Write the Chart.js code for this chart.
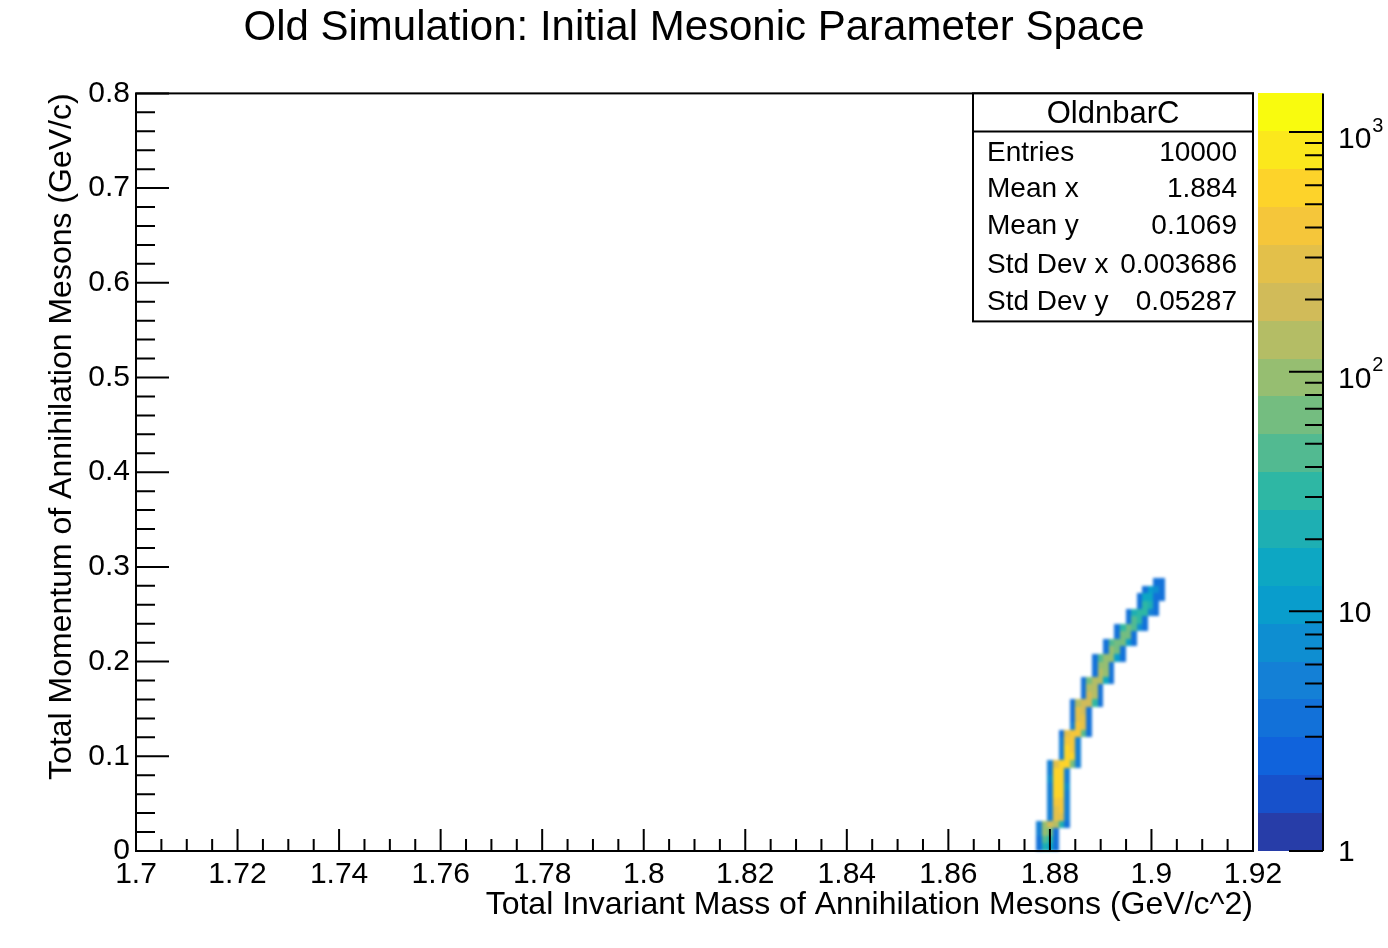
<!DOCTYPE html>
<html>
<head>
<meta charset="utf-8">
<title>Old Simulation: Initial Mesonic Parameter Space</title>
<script src="https://cdn.jsdelivr.net/npm/chart.js@4.4.0/dist/chart.umd.min.js"></script>
<style>
  html, body { margin: 0; padding: 0; background: #fff; }
  #plot { display: block; }
</style>
</head>
<body>
<canvas id="plot" width="1388" height="948"></canvas>
<script>
// ROOT TH2 "OldnbarC" drawn with COLZ and a log z axis

const xTickValues = [1.7, 1.72, 1.74, 1.76, 1.78, 1.8, 1.82, 1.84, 1.86, 1.88, 1.9, 1.92];
const xTickLabels = ['1.7', '1.72', '1.74', '1.76', '1.78', '1.8', '1.82', '1.84', '1.86', '1.88', '1.9', '1.92'];
const yTickValues = [0, 0.1, 0.2, 0.3, 0.4, 0.5, 0.6, 0.7, 0.8];
const yTickLabels = ['0', '0.1', '0.2', '0.3', '0.4', '0.5', '0.6', '0.7', '0.8'];
const zTickValues = [1, 10, 100, 1000];
const zTickBase = ['1', '10', '10', '10'];
const zTickExp = ['', '', '2', '3'];
const zMax = 1450;

// histogram bins: one entry per y row, cells run rightwards from rowLeft
const cellWidth = 0.0011;
const cellHeight = 0.008;
const rowCenters = [0.004, 0.012, 0.020, 0.028, 0.036, 0.044, 0.052, 0.060, 0.068, 0.076, 0.084, 0.092,
                    0.100, 0.108, 0.116, 0.124, 0.132, 0.140, 0.148, 0.156, 0.164, 0.172, 0.180, 0.188,
                    0.196, 0.204, 0.212, 0.220, 0.228, 0.236, 0.244, 0.252, 0.260, 0.268, 0.276, 0.284];
const rowLeft = [1.8773, 1.8773, 1.8773, 1.8773, 1.8795, 1.8795, 1.8795, 1.8795, 1.8795, 1.8795, 1.8795, 1.8795,
                 1.8817, 1.8817, 1.8817, 1.8817, 1.8839, 1.8839, 1.8839, 1.8839, 1.8861, 1.8861, 1.8861, 1.8883,
                 1.8883, 1.8883, 1.8905, 1.8905, 1.8927, 1.8927, 1.8949, 1.8949, 1.8971, 1.8971, 1.8982, 1.9004];
const rowCounts = [
    [3, 20, 14, 3], [4, 45, 35, 3], [5, 90, 70, 4], [5, 90, 170, 140, 25, 4],
    [5, 240, 280, 5], [5, 330, 380, 6], [6, 420, 470, 6], [6, 490, 540, 6],
    [6, 540, 580, 7], [7, 570, 600, 6], [6, 580, 590, 6], [5, 300, 560, 520, 60, 5],
    [5, 540, 500, 5], [5, 500, 460, 5], [5, 460, 420, 5], [4, 240, 420, 380, 50, 4],
    [5, 360, 320, 4], [4, 320, 280, 4], [4, 270, 230, 4], [4, 130, 220, 190, 30, 4],
    [4, 180, 150, 4], [4, 160, 135, 3], [3, 75, 140, 120, 18, 3], [4, 125, 105, 3],
    [3, 110, 92, 3], [3, 52, 95, 80, 12, 3], [3, 92, 78, 3], [3, 42, 78, 66, 10, 3],
    [3, 66, 55, 3], [3, 30, 55, 46, 8, 3], [3, 46, 38, 3], [3, 20, 38, 31, 6, 3],
    [3, 30, 24, 3], [3, 18, 14, 4, 3], [3, 10, 8, 3], [3, 3]
];

const statsTitle = 'OldnbarC';
const statsNames = ['Entries', 'Mean x', 'Mean y', 'Std Dev x', 'Std Dev y'];
const statsValues = ['10000', '1.884', '0.1069', '0.003686', '0.05287'];

const FONT = "'Liberation Sans', Arial, Helvetica, sans-serif";

// kBird palette, 20 contour levels
const birdStops = [0.0, 0.125, 0.25, 0.375, 0.5, 0.625, 0.75, 0.875, 1.0];
const birdR = [0.2082, 0.0592, 0.0780, 0.0232, 0.1802, 0.5301, 0.8186, 0.9956, 0.9764];
const birdG = [0.1664, 0.3599, 0.5041, 0.6419, 0.7178, 0.7492, 0.7328, 0.7862, 0.9832];
const birdB = [0.5293, 0.8684, 0.8385, 0.7914, 0.6425, 0.4662, 0.3499, 0.1968, 0.0539];
const nContours = 20;

function birdColour(f) {
    let i = 0;
    while (i < birdStops.length - 2 && f > birdStops[i + 1]) i++;
    const t = (f - birdStops[i]) / (birdStops[i + 1] - birdStops[i]);
    const c = arr => Math.round(255 * (arr[i] + (arr[i + 1] - arr[i]) * t));
    return `rgb(${c(birdR)},${c(birdG)},${c(birdB)})`;
}

function bandColour(band) {
    const idx = Math.min(254, Math.floor((band + 0.99) * 255 / nContours));
    return birdColour(idx / 254);
}

function colourFor(v) {
    const band = Math.floor(Math.log10(v) / Math.log10(zMax) * nContours);
    return bandColour(Math.max(0, Math.min(nContours - 1, band)));
}

const cells = [];
rowCenters.forEach((yc, i) => {
    rowCounts[i].forEach((count, j) => {
        cells.push({ x: rowLeft[i] + (j + 0.5) * cellWidth, y: yc, v: count });
    });
});

const rootStyle = {
    id: 'rootStyle',
    afterDraw(chart) {
        const { ctx, chartArea: a } = chart;
        const { x, y, z } = chart.scales;

        // colz cells, drawn crisp off screen then softened a touch
        const off = document.createElement('canvas');
        off.width = chart.width;
        off.height = chart.height;
        const oc = off.getContext('2d');
        chart.data.datasets[0].data.forEach(c => {
            const x0 = Math.round(x.getPixelForValue(c.x - cellWidth / 2));
            const x1 = Math.round(x.getPixelForValue(c.x + cellWidth / 2));
            const y0 = Math.round(y.getPixelForValue(c.y - cellHeight / 2));
            const y1 = Math.round(y.getPixelForValue(c.y + cellHeight / 2));
            oc.fillStyle = colourFor(c.v);
            oc.fillRect(x0, y1, x1 - x0, y0 - y1);
        });
        ctx.save();
        ctx.filter = 'blur(1.5px)';
        ctx.drawImage(off, 0, 0);
        ctx.restore();

        ctx.save();
        ctx.strokeStyle = '#000';
        ctx.lineWidth = 2;
        ctx.strokeRect(a.left, a.top, a.right - a.left, a.bottom - a.top);

        // inward ticks
        ctx.beginPath();
        xTickValues.forEach((v, i) => {
            const px = x.getPixelForValue(v);
            ctx.moveTo(px, a.bottom);
            ctx.lineTo(px, a.bottom - 22);
            if (i < xTickValues.length - 1) {
                for (let k = 1; k < 4; k++) {
                    const mx = x.getPixelForValue(v + (xTickValues[i + 1] - v) * k / 4);
                    ctx.moveTo(mx, a.bottom);
                    ctx.lineTo(mx, a.bottom - 12);
                }
            }
        });
        yTickValues.forEach((v, i) => {
            const py = y.getPixelForValue(v);
            ctx.moveTo(a.left, py);
            ctx.lineTo(a.left + 33, py);
            if (i < yTickValues.length - 1) {
                for (let k = 1; k < 5; k++) {
                    const my = y.getPixelForValue(v + (yTickValues[i + 1] - v) * k / 5);
                    ctx.moveTo(a.left, my);
                    ctx.lineTo(a.left + 19, my);
                }
            }
        });
        ctx.stroke();

        // stats box
        const bl = a.right - 280, bt = a.top, br = a.right, bb = a.top + 228;
        ctx.fillStyle = '#fff';
        ctx.fillRect(bl, bt, br - bl, bb - bt);
        ctx.strokeRect(bl, bt, br - bl, bb - bt);
        ctx.beginPath();
        ctx.moveTo(bl, bt + 38);
        ctx.lineTo(br, bt + 38);
        ctx.stroke();
        ctx.fillStyle = '#000';
        ctx.textBaseline = 'middle';
        ctx.textAlign = 'center';
        ctx.font = `31px ${FONT}`;
        ctx.fillText(statsTitle, (bl + br) / 2, bt + 21);
        ctx.font = `28px ${FONT}`;
        const rowOffsets = [60, 96, 133, 172, 209];
        statsNames.forEach((name, i) => {
            ctx.textAlign = 'left';
            ctx.fillText(name, bl + 14, bt + rowOffsets[i]);
            ctx.textAlign = 'right';
            ctx.fillText(statsValues[i], br - 16, bt + rowOffsets[i]);
        });

        // palette
        const pl = a.right + 5, pr = a.right + 70;
        const logMax = Math.log10(zMax);
        for (let b = 0; b < nContours; b++) {
            const lo = Math.round(z.getPixelForValue(Math.pow(10, b * logMax / nContours)));
            const hi = Math.round(z.getPixelForValue(Math.pow(10, (b + 1) * logMax / nContours)));
            ctx.fillStyle = bandColour(b);
            ctx.fillRect(pl, hi, pr - pl, lo - hi);
        }
        ctx.beginPath();
        ctx.moveTo(pr, z.top);
        ctx.lineTo(pr, z.bottom);
        zTickValues.forEach(v => {
            const py = z.getPixelForValue(v);
            ctx.moveTo(pr - 34, py);
            ctx.lineTo(pr, py);
            for (let m = 2; m < 10; m++) {
                if (v * m > zMax) break;
                const my = z.getPixelForValue(v * m);
                ctx.moveTo(pr - 18, my);
                ctx.lineTo(pr, my);
            }
        });
        ctx.stroke();

        ctx.fillStyle = '#000';
        ctx.textAlign = 'left';
        ctx.textBaseline = 'middle';
        zTickValues.forEach((v, i) => {
            const py = z.getPixelForValue(v) + (zTickExp[i] ? 8 : 2);
            ctx.font = `30px ${FONT}`;
            ctx.fillText(zTickBase[i], pr + 15, py);
            if (zTickExp[i]) {
                const w = ctx.measureText(zTickBase[i]).width;
                ctx.font = `20px ${FONT}`;
                ctx.fillText(zTickExp[i], pr + 16 + w, py - 14);
            }
        });
        ctx.restore();
    }
};

new Chart(document.getElementById('plot'), {
    type: 'scatter',
    data: {
        datasets: [{ label: 'OldnbarC', data: cells, pointRadius: 0, pointHoverRadius: 0 }]
    },
    options: {
        responsive: false,
        animation: false,
        events: [],
        layout: { padding: 0 },
        plugins: {
            legend: { display: false },
            tooltip: { enabled: false },
            title: {
                display: true,
                text: 'Old Simulation: Initial Mesonic Parameter Space',
                color: '#000',
                font: { family: FONT, size: 42, weight: 'normal' },
                padding: { top: 3, bottom: 40 }
            }
        },
        scales: {
            x: {
                type: 'linear',
                min: 1.7,
                max: 1.92,
                grid: { display: false, drawTicks: false },
                border: { display: false },
                afterBuildTicks: s => { s.ticks = xTickValues.map(v => ({ value: v })); },
                afterFit: s => { s.height = 97; },
                ticks: {
                    autoSkip: false,
                    maxRotation: 0,
                    padding: 6,
                    color: '#000',
                    font: { family: FONT, size: 30 },
                    callback: (val, i) => xTickLabels[i]
                },
                title: {
                    display: true,
                    align: 'end',
                    text: 'Total Invariant Mass of Annihilation Mesons (GeV/c^2)',
                    color: '#000',
                    font: { family: FONT, size: 32 },
                    padding: { top: 0, bottom: 24 }
                }
            },
            y: {
                type: 'linear',
                min: 0,
                max: 0.8,
                grid: { display: false, drawTicks: false },
                border: { display: false },
                afterBuildTicks: s => { s.ticks = yTickValues.map(v => ({ value: v })); },
                afterFit: s => { s.width = 136; },
                ticks: {
                    autoSkip: false,
                    padding: 6,
                    color: '#000',
                    font: { family: FONT, size: 30 },
                    callback: (val, i) => yTickLabels[i]
                },
                title: {
                    display: true,
                    align: 'end',
                    text: 'Total Momentum of Annihilation Mesons (GeV/c)',
                    color: '#000',
                    font: { family: FONT, size: 32 },
                    padding: { top: 43, bottom: 0 }
                }
            },
            z: {
                type: 'logarithmic',
                position: 'right',
                min: 1,
                max: zMax,
                grid: { display: false, drawTicks: false },
                border: { display: false },
                ticks: { display: false },
                afterFit: s => { s.width = 135; }
            }
        }
    },
    plugins: [rootStyle]
});
</script>
</body>
</html>
